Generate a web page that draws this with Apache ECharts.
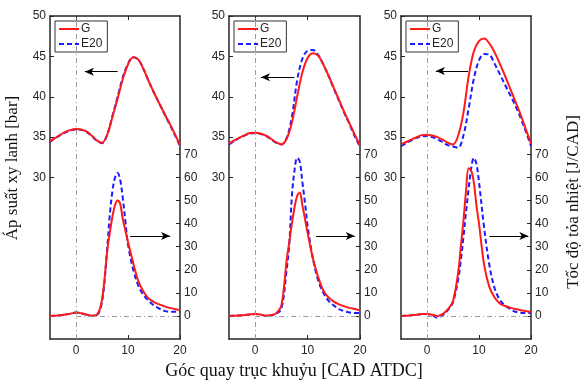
<!DOCTYPE html>
<html>
<head>
<meta charset="utf-8">
<script src="https://cdn.jsdelivr.net/npm/echarts@6.0.0/dist/echarts.min.js"></script>
<style>
  html, body { margin: 0; padding: 0; background: #fff; }
  #chart { width: 588px; height: 380px; }
</style>
</head>
<body>
<div id="chart"></div>
<script>
// góc quay (CAD ATDC)
const pressureAngles = [-5,-4,-3,-2,-1,0,1,2,3,4,5,6,7,8,9,10,11,12,13,14,15,16,17,18,19,20];
const heatAngles = [-5,-4,-3,-2,-1,0,1,2,3,4,5,6,6.5,7,7.5,8,8.5,9,9.5,10,11,12,13,14,15,16,17,18,19,20];

// áp suất xy lanh [bar]
const pressureG1 = [34.5,34.9,35.3,35.65,35.9,36.0,35.95,35.7,35.2,34.6,34.3,35.3,37.5,39.8,42.2,44.0,44.9,44.6,43.4,41.9,40.5,39.2,37.9,36.7,35.4,34.0];
const pressureE1 = [34.4,34.85,35.25,35.6,35.85,35.95,35.9,35.65,35.15,34.55,34.25,35.3,37.6,40.0,42.4,44.1,44.9,44.6,43.4,41.9,40.5,39.2,37.9,36.6,35.3,33.9];
const pressureG2 = [34.2,34.6,34.95,35.25,35.5,35.55,35.45,35.2,34.8,34.35,34.1,34.8,36.8,40.0,43.0,44.8,45.4,45.1,44.0,42.6,41.1,39.6,38.1,36.7,35.3,34.0];
const pressureE2 = [34.1,34.5,34.9,35.2,35.45,35.5,35.4,35.15,34.75,34.3,34.1,34.9,37.5,42.0,44.7,45.7,45.8,45.2,44.0,42.6,41.0,39.5,38.0,36.6,35.1,33.8];
const pressureG3 = [34.1,34.4,34.7,35.0,35.25,35.3,35.2,35.0,34.7,34.3,34.1,35.2,38.0,42.5,45.6,46.9,47.2,46.6,45.5,44.1,42.6,41.0,39.4,37.8,36.0,34.2];
const pressureE3 = [33.9,34.25,34.6,34.9,35.1,35.15,35.0,34.75,34.4,34.0,33.85,33.7,35.2,38.5,42.2,44.5,45.3,45.2,44.1,42.8,41.5,40.2,38.9,37.4,35.7,33.9];

// tốc độ tỏa nhiệt [J/CAD]
const heatG1 = [0,0.1,0.3,0.6,1.0,1.5,1.2,0.6,0.1,0.5,7,28,36,43,48,50,48.5,42,37,32,23,15,10.5,7.5,6,5,4.2,3.5,3,2.5];
const heatE1 = [0,0.1,0.3,0.6,1.0,1.5,1.1,0.5,0,0.3,6,29,44,54,60,62,59,51,41,31,20,13,9,6.5,4.5,3.2,2.2,1.8,1.8,2.0];
const heatG2 = [0,0.1,0.2,0.4,0.6,0.8,0.6,0.1,0.3,1.2,4.5,24,32,40,47,52,53.5,48,42,36,25,17,11,8,6.2,5,4.2,3.5,3,2.4];
const heatE2 = [0,0.1,0.2,0.4,0.6,0.8,0.6,0.1,0.2,1.0,3,20,31,52,63,68.5,67,58,49,39,25,15.5,10,6.5,4.5,3,2,1.5,1.3,1.3];
const heatG3 = [0,0.1,0.3,0.5,0.8,0.8,0.5,0,0.8,2.8,6.5,19,30,41,54,64,63,58,48,40,22,12.5,8,5.4,4.3,3.6,3.0,2.5,2.1,1.7];
const heatE3 = [0,0.1,0.3,0.5,0.8,0.8,0.3,-0.8,0.3,2.5,6,16,24,34,45,55,64,68.5,66,58,38,22,12,7,4.5,3,1.8,1.4,1.3,1.3];

const xTicks = [0, 10, 20];
const pressureTicks = [30, 35, 40, 45, 50];
const heatTicks = [0, 10, 20, 30, 40, 50, 60, 70];

const panels = [
  { pG: pressureG1, pE: pressureE1, hG: heatG1, hE: heatE1, left: 50, width: 130,
    arrowL: [[8.0, 43.1], [1.7, 43.1]], arrowR: [[10.4, 34.6], [18.1, 34.6]] },
  { pG: pressureG2, pE: pressureE2, hG: heatG2, hE: heatE2, left: 229, width: 131,
    arrowL: [[7.5, 42.4], [1.1, 42.4]], arrowR: [[11.6, 34.6], [19.0, 34.6]] },
  { pG: pressureG3, pE: pressureE3, hG: heatG3, hE: heatE3, left: 401, width: 130,
    arrowL: [[7.9, 43.2], [1.7, 43.2]], arrowR: [[12.0, 34.6], [19.5, 34.6]] }
];

const axisColor = '#262626';
const red = '#ff1a1a';
const blue = '#1a1aff';
const pair = (xs, ys) => xs.map((x, i) => [x, ys[i]]);

const grid = [], xAxis = [], yAxis = [], series = [], legend = [];

panels.forEach((p, i) => {
  grid.push({ left: p.left, width: p.width, top: 16, height: 323 });

  xAxis.push({
    type: 'value', gridIndex: i, min: -5, max: 20, position: 'bottom',
    axisLine: { show: true, onZero: false, lineStyle: { color: axisColor, width: 1.5 } },
    axisTick: { show: true, inside: true, length: 4, customValues: xTicks, lineStyle: { color: axisColor } },
    axisLabel: { customValues: xTicks, color: axisColor, fontSize: 12, fontFamily: 'Liberation Sans', margin: 6 },
    splitLine: { show: false }
  });
  xAxis.push({
    type: 'value', gridIndex: i, min: -5, max: 20, position: 'top',
    axisLine: { show: true, onZero: false, lineStyle: { color: axisColor, width: 1.5 } },
    axisTick: { show: true, inside: true, length: 4, customValues: [0, 10], lineStyle: { color: axisColor } },
    axisLabel: { show: false },
    splitLine: { show: false }
  });

  yAxis.push({
    type: 'value', gridIndex: i, min: 10, max: 50, position: 'left',
    axisLine: { show: true, onZero: false, lineStyle: { color: axisColor, width: 1.5 } },
    axisTick: { show: true, inside: true, length: 4, customValues: pressureTicks, lineStyle: { color: axisColor } },
    axisLabel: { customValues: pressureTicks, color: axisColor, fontSize: 12, fontFamily: 'Liberation Sans', margin: 4 },
    splitLine: { show: false }
  });
  yAxis.push({
    type: 'value', gridIndex: i, min: -10, max: 130, position: 'right',
    axisLine: { show: true, onZero: false, lineStyle: { color: axisColor, width: 1.5 } },
    axisTick: { show: true, inside: true, length: 4, customValues: heatTicks, lineStyle: { color: axisColor } },
    axisLabel: { customValues: heatTicks, color: axisColor, fontSize: 12, fontFamily: 'Liberation Sans', margin: 4 },
    splitLine: { show: false }
  });

  const refStyle = { color: '#9a9a9a', width: 1, type: [5, 3, 1, 3] };
  const arrowStyle = { color: '#000', width: 1, type: 'solid' };

  series.push({
    name: 'G', type: 'line', xAxisIndex: 2 * i, yAxisIndex: 2 * i,
    data: pair(pressureAngles, p.pG), smooth: 0.35, symbol: 'none', z: 4,
    lineStyle: { color: red, width: 2 }, itemStyle: { color: red },
    markLine: {
      silent: true, animation: false, symbol: 'none', label: { show: false },
      lineStyle: refStyle,
      data: [
        { xAxis: 0 },
        [{ coord: p.arrowL[0], symbol: 'none', lineStyle: arrowStyle },
         { coord: p.arrowL[1], symbol: 'arrow', symbolSize: [6, 9] }]
      ]
    }
  });
  series.push({
    name: 'E20', type: 'line', xAxisIndex: 2 * i, yAxisIndex: 2 * i,
    data: pair(pressureAngles, p.pE), smooth: 0.35, symbol: 'none', z: 3,
    lineStyle: { color: blue, width: 2, type: [5, 3] }, itemStyle: { color: blue }
  });
  series.push({
    name: 'G', type: 'line', xAxisIndex: 2 * i, yAxisIndex: 2 * i + 1,
    data: pair(heatAngles, p.hG), smooth: 0.35, symbol: 'none', z: 4,
    lineStyle: { color: red, width: 2 }, itemStyle: { color: red },
    markLine: {
      silent: true, animation: false, symbol: 'none', label: { show: false },
      lineStyle: refStyle,
      data: [
        [{ coord: [0, 0] }, { coord: [20, 0] }],
        [{ coord: p.arrowR[0], symbol: 'none', lineStyle: arrowStyle },
         { coord: p.arrowR[1], symbol: 'arrow', symbolSize: [6, 9] }]
      ]
    }
  });
  series.push({
    name: 'E20', type: 'line', xAxisIndex: 2 * i, yAxisIndex: 2 * i + 1,
    data: pair(heatAngles, p.hE), smooth: 0.35, symbol: 'none', z: 3,
    lineStyle: { color: blue, width: 2, type: [5, 3] }, itemStyle: { color: blue }
  });

  // khung chú thích, chỉ vẽ đoạn thẳng, không có ký hiệu điểm
  legend.push({
    data: ['G', 'E20'], orient: 'vertical', left: p.left + 5, top: 21,
    itemWidth: 20, itemHeight: 8, itemGap: 3,
    itemStyle: { opacity: 0 },
    padding: [2, 5, 2, 3], borderColor: '#333', borderWidth: 1, backgroundColor: '#fff',
    textStyle: { fontSize: 12, color: axisColor, fontFamily: 'Liberation Sans', padding: [0, 0, 0, -3] },
    selectedMode: false
  });
});

const chart = echarts.init(document.getElementById('chart'));
chart.setOption({
  animation: false,
  backgroundColor: '#fff',
  grid, xAxis, yAxis, series, legend,
  graphic: [
    { type: 'text', x: 13, y: 168, rotation: Math.PI / 2,
      style: { text: 'Áp suất xy lanh [bar]', font: '17px "Liberation Serif"', fill: '#111', align: 'center', verticalAlign: 'middle' } },
    { type: 'text', x: 574, y: 202, rotation: Math.PI / 2,
      style: { text: 'Tốc độ tỏa nhiệt [J/CAD]', font: '17px "Liberation Serif"', fill: '#111', align: 'center', verticalAlign: 'middle' } },
    { type: 'text', x: 294, y: 371,
      style: { text: 'Góc quay trục khuỷu [CAD ATDC]', font: '18px "Liberation Serif"', fill: '#111', align: 'center', verticalAlign: 'middle' } }
  ]
});
</script>
</body>
</html>
